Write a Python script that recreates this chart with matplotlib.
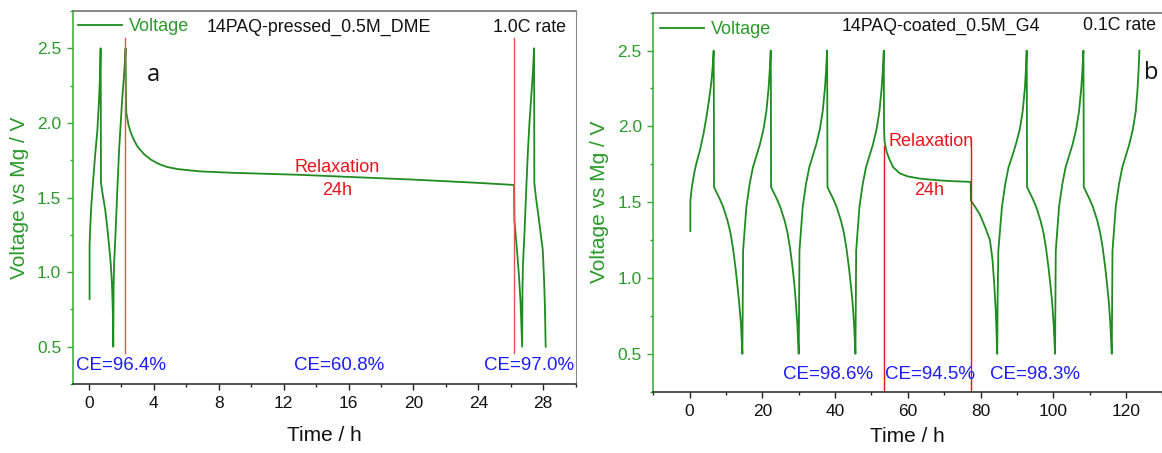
import matplotlib
matplotlib.use("Agg")
import matplotlib.pyplot as plt
from matplotlib.ticker import MultipleLocator

plt.rcParams['font.family'] = ['Liberation Sans', 'DejaVu Sans']

# ---------------- data: panel a (14PAQ-pressed, 1.0C) ----------------
time_a = [0.04, 0.04, 0.08, 0.15, 0.25, 0.38, 0.52, 0.62, 0.68, 0.72,
          0.73, 0.74, 0.85, 1.00, 1.13, 1.25, 1.35, 1.42, 1.47, 1.50,
          1.52, 1.55, 1.64, 1.75, 1.85, 1.96, 2.05, 2.15, 2.22, 2.26,
          2.28, 2.30, 2.45, 2.60, 2.77, 3.00, 3.40, 3.80, 4.30, 4.80,
          5.50, 6.85, 9.00, 13.0, 16.0, 20.0, 24.0, 26.2,
          26.22, 26.30, 26.40, 26.50, 26.60, 26.70,
          26.72, 26.75, 26.85, 26.95, 27.05, 27.15, 27.25, 27.35, 27.40, 27.43,
          27.44, 27.45, 27.55, 27.70, 27.85, 27.97, 28.05, 28.10, 28.15]
volt_a = [0.82, 1.18, 1.30, 1.45, 1.60, 1.78, 1.95, 2.15, 2.30, 2.50,
          2.25, 1.60, 1.52, 1.42, 1.30, 1.17, 1.05, 0.92, 0.75, 0.50,
          0.90, 1.05, 1.26, 1.55, 1.80, 2.00, 2.16, 2.30, 2.42, 2.50,
          2.20, 2.07, 1.98, 1.93, 1.886, 1.84, 1.79, 1.755, 1.725, 1.705,
          1.69, 1.675, 1.665, 1.652, 1.638, 1.620, 1.598, 1.584,
          1.35, 1.25, 1.12, 0.98, 0.80, 0.50,
          0.90, 1.05, 1.28, 1.55, 1.80, 2.00, 2.16, 2.32, 2.42, 2.50,
          2.25, 1.60, 1.50, 1.38, 1.25, 1.15, 0.95, 0.78, 0.50]
relax_a_times = [2.25, 26.2]
relax_a_vrange = [0.46, 2.57]
ce_a_labels = ["CE=96.4%", "CE=60.8%", "CE=97.0%"]
ce_a_times = [2.0, 15.4, 27.1]

# ---------------- data: panel b (14PAQ-coated, 0.1C) ----------------
time_b = [0.18, 0.20, 0.6, 1.4, 2.0, 2.8, 3.8, 4.6, 5.3, 5.96, 6.35, 6.6,
          6.65, 6.7, 7.5, 8.3, 9.2, 10.4, 11.2, 11.9, 12.6, 13.1, 13.6, 14.1, 14.5,
          14.6, 14.7, 15.6, 16.5, 17.4, 18.4, 19.3, 20.3, 21.1, 21.7, 22.0, 22.3,
          22.35, 22.4, 23.2, 24.0, 24.9, 26.1, 26.9, 27.6, 28.3, 28.8, 29.2, 29.6, 30.0,
          30.1, 30.2, 31.1, 32.0, 32.9, 33.9, 34.8, 35.8, 36.6, 37.2, 37.5, 37.8,
          37.85, 37.9, 38.7, 39.5, 40.4, 41.6, 42.4, 43.1, 43.8, 44.3, 44.8, 45.2, 45.6,
          45.7, 45.8, 46.7, 47.6, 48.5, 49.5, 50.4, 51.4, 52.2, 52.8, 53.1, 53.4,
          53.45, 53.6, 54.2, 55.0, 56.0, 57.8, 60.0, 63.3, 67.9, 72.0, 77.3,
          77.35, 78.5, 79.8, 81.2, 82.6, 83.3, 83.8, 84.2, 84.6,
          84.7, 84.9, 85.9, 86.8, 87.7, 88.8, 89.7, 90.8, 91.6, 92.2, 92.45, 92.7,
          92.75, 92.8, 93.6, 94.4, 95.3, 96.5, 97.3, 98.0, 98.7, 99.2, 99.7, 100.1, 100.5,
          100.6, 100.7, 101.6, 102.5, 103.4, 104.4, 105.3, 106.3, 107.1, 107.7, 108.0, 108.3,
          108.35, 108.4, 109.2, 110.0, 110.9, 112.1, 112.9, 113.6, 114.3, 114.8, 115.3, 115.7, 116.1,
          116.2, 116.3, 117.2, 118.1, 119.0, 120.0, 120.9, 121.9, 122.7, 123.2, 123.45, 123.7]
volt_b = [1.31, 1.51, 1.60, 1.71, 1.77, 1.84, 1.95, 2.06, 2.17, 2.29, 2.40, 2.50,
          2.20, 1.60, 1.56, 1.52, 1.47, 1.38, 1.30, 1.20, 1.07, 0.96, 0.84, 0.70, 0.50,
          0.85, 1.18, 1.47, 1.62, 1.73, 1.81, 1.88, 1.98, 2.10, 2.25, 2.36, 2.50,
          2.20, 1.60, 1.56, 1.52, 1.47, 1.38, 1.30, 1.20, 1.07, 0.96, 0.84, 0.70, 0.50,
          0.85, 1.18, 1.47, 1.62, 1.73, 1.81, 1.88, 1.98, 2.10, 2.25, 2.36, 2.50,
          2.20, 1.60, 1.56, 1.52, 1.47, 1.38, 1.30, 1.20, 1.07, 0.96, 0.84, 0.70, 0.50,
          0.85, 1.18, 1.47, 1.62, 1.73, 1.81, 1.88, 1.98, 2.10, 2.25, 2.36, 2.50,
          2.00, 1.90, 1.83, 1.78, 1.73, 1.69, 1.67, 1.656, 1.645, 1.639, 1.634,
          1.51, 1.47, 1.42, 1.34, 1.25, 1.12, 0.95, 0.78, 0.50,
          0.85, 1.18, 1.47, 1.62, 1.73, 1.81, 1.88, 1.98, 2.10, 2.25, 2.36, 2.50,
          2.20, 1.60, 1.56, 1.52, 1.47, 1.38, 1.30, 1.20, 1.07, 0.96, 0.84, 0.70, 0.50,
          0.85, 1.18, 1.47, 1.62, 1.73, 1.81, 1.88, 1.98, 2.10, 2.25, 2.36, 2.50,
          2.20, 1.60, 1.56, 1.52, 1.47, 1.38, 1.30, 1.20, 1.07, 0.96, 0.84, 0.70, 0.50,
          0.85, 1.18, 1.47, 1.62, 1.73, 1.81, 1.88, 1.98, 2.10, 2.25, 2.36, 2.50]
relax_b_times = [53.4, 77.4]
relax_b_vrange = [0.25, 1.87]
ce_b_labels = ["CE=98.6%", "CE=94.5%", "CE=98.3%"]
ce_b_times = [38.2, 66.1, 95.1]

# ---------------- styling ----------------
LINE_GREEN = '#1f8c1f'
AXIS_GREEN = '#33a833'
TEXT_GREEN = '#2a9a2a'
RED_A = '#e65050'
RED_B = '#e8141c'
BLUE = '#1c1cff'

W, H = 1162, 453
fig = plt.figure(figsize=(W / 100, H / 100), dpi=100)

def px_axes(x0, x1, ytop, ybot):
    return fig.add_axes([x0 / W, 1 - ybot / H, (x1 - x0) / W, (ybot - ytop) / H])

ax_a = px_axes(72.7, 575.7, 11, 384)
ax_b = px_axes(653.3, 1162.3, 12.7, 391.7)


def style(ax, xmaj, xmin, right_visible=True):
    ax.set_ylim(0.25, 2.75)
    ax.yaxis.set_major_locator(MultipleLocator(0.5))
    ax.yaxis.set_minor_locator(MultipleLocator(0.25))
    ax.xaxis.set_major_locator(MultipleLocator(xmaj))
    ax.xaxis.set_minor_locator(MultipleLocator(xmin))
    ax.spines['left'].set_color(AXIS_GREEN)
    ax.spines['left'].set_linewidth(1.1)
    ax.spines['bottom'].set_color('#222222')
    ax.spines['bottom'].set_linewidth(1.1)
    ax.spines['top'].set_color('#666666')
    ax.spines['top'].set_linewidth(1.1)
    ax.spines['right'].set_color('#888888')
    ax.spines['right'].set_visible(right_visible)
    ax.tick_params(axis='y', which='major', direction='out', length=4.3, width=1.0,
                   color=AXIS_GREEN, labelcolor=TEXT_GREEN, labelsize=12.5, pad=4)
    ax.tick_params(axis='y', which='minor', direction='out', length=2.3, width=1.0,
                   color=AXIS_GREEN)
    ax.tick_params(axis='x', which='major', direction='out', length=4.5, width=1.0,
                   color='#222222', labelcolor='#111111', labelsize=12.5, pad=4.5)
    ax.tick_params(axis='x', which='minor', direction='out', length=2.5, width=1.0,
                   color='#222222')
    ax.tick_params(top=False, right=False, which='both')
    ax.set_ylabel('Voltage vs Mg / V', color=TEXT_GREEN, fontsize=15)
    ax.set_xlabel('Time / h', color='#111111', fontsize=15)


# ---- panel a ----
style(ax_a, 4, 2)
ax_a.set_xlim(-1, 30)
ax_a.plot(time_a, volt_a, color=LINE_GREEN, lw=1.3, label='Voltage')
for t in relax_a_times:
    ax_a.plot([t, t], relax_a_vrange, color=RED_A, lw=1.0)
ax_a.yaxis.set_label_coords(-0.087, 0.5)
ax_a.xaxis.set_label_coords(0.5, -0.113)
leg = ax_a.legend(loc='upper left', bbox_to_anchor=(0.0105, 0.98), frameon=False,
                  fontsize=13, handlelength=2.45, handletextpad=0.35,
                  borderaxespad=0, borderpad=0)
for txt in leg.get_texts():
    txt.set_color(TEXT_GREEN)
ax_a.text(0.267, 0.957, '14PAQ-pressed_0.5M_DME', transform=ax_a.transAxes,
          fontsize=12.8, color='#111111', ha='left', va='center')
ax_a.text(0.836, 0.957, '1.0C rate', transform=ax_a.transAxes,
          fontsize=12.8, color='#111111', ha='left', va='center')
ax_a.text(0.16, 0.828, 'a', transform=ax_a.transAxes, fontsize=17,
          family=['Open Sans', 'DejaVu Sans'], color='#111111', ha='center', va='center')
ax_a.text(15.3, 1.70, 'Relaxation', color=RED_B, fontsize=13, ha='center', va='center')
ax_a.text(15.3, 1.55, '24h', color=RED_B, fontsize=13, ha='center', va='center')
for lab, t in zip(ce_a_labels, ce_a_times):
    ax_a.text(t, 0.377, lab, color=BLUE, fontsize=13.5, ha='center', va='center')

# ---- panel b ----
style(ax_b, 20, 10, right_visible=False)
ax_b.set_xlim(-10, 130)
ax_b.plot(time_b, volt_b, color=LINE_GREEN, lw=1.3, label='Voltage')
for t in relax_b_times:
    ax_b.plot([t, t], relax_b_vrange, color=RED_B, lw=1.0)
ax_b.yaxis.set_label_coords(-0.087, 0.5)
ax_b.xaxis.set_label_coords(0.5, -0.093)
leg = ax_b.legend(loc='upper left', bbox_to_anchor=(0.013, 0.978), frameon=False,
                  fontsize=13, handlelength=2.45, handletextpad=0.35,
                  borderaxespad=0, borderpad=0)
for txt in leg.get_texts():
    txt.set_color(TEXT_GREEN)
ax_b.text(0.370, 0.965, '14PAQ-coated_0.5M_G4', transform=ax_b.transAxes,
          fontsize=12.8, color='#111111', ha='left', va='center')
ax_b.text(0.8436, 0.965, '0.1C rate', transform=ax_b.transAxes,
          fontsize=12.8, color='#111111', ha='left', va='center')
ax_b.text(0.979, 0.841, 'b', transform=ax_b.transAxes, fontsize=17,
          family=['Open Sans', 'DejaVu Sans'], color='#111111', ha='center', va='center')
ax_b.text(66.4, 1.90, 'Relaxation', color=RED_B, fontsize=13, ha='center', va='center')
ax_b.text(66.0, 1.58, '24h', color=RED_B, fontsize=13, ha='center', va='center')
for lab, t in zip(ce_b_labels, ce_b_times):
    ax_b.text(t, 0.363, lab, color=BLUE, fontsize=13.5, ha='center', va='center')

fig.savefig('out.png', dpi=100)
